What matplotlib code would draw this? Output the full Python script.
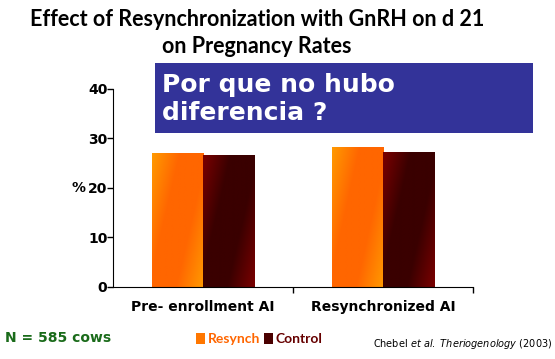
import numpy as np
import matplotlib
matplotlib.use('Agg')
import matplotlib.pyplot as plt
from matplotlib.colors import LinearSegmentedColormap
from matplotlib.patches import Rectangle

categories = ['Pre- enrollment AI', 'Resynchronized AI']
resynch = [27.0, 28.2]
control = [26.7, 27.2]
series_names = ['Resynch', 'Control']

fig = plt.figure(figsize=(5.55, 3.59), dpi=100)
ax = fig.add_axes([0.2036, 0.2006, 0.6486, 0.5515])

x = np.arange(len(categories))
w = 0.285
b1 = ax.bar(x - w / 2, resynch, w, color='#ff7700', edgecolor='#f0d0c0', linewidth=0.6)
b2 = ax.bar(x + w / 2, control, w, color='#550000', edgecolor='#f0d0c0', linewidth=0.6)

# diagonal gradients clipped to each bar
cm_or = LinearSegmentedColormap.from_list('or', ['#ff9900', '#ff6600', '#ff6600', '#ff9900'])
cm_dk = LinearSegmentedColormap.from_list('dk', ['#7a0000', '#3a0000', '#3a0000', '#7a0000'])
gx, gy = np.meshgrid(np.linspace(0, 1, 60), np.linspace(0, 1, 60))
grad = (gx + (1 - gy) * 0.6) / 1.6
for bars, cm in [(b1, cm_or), (b2, cm_dk)]:
    for p in bars:
        x0, y0 = p.get_x(), p.get_y()
        im = ax.imshow(grad, cmap=cm, extent=[x0, x0 + p.get_width(), y0, y0 + p.get_height()],
                       aspect='auto', origin='lower', zorder=p.get_zorder() + 0.1)
        im.set_clip_path(p)

ax.set_xlim(-0.5, 1.5)
ax.set_ylim(0, 40)
ax.set_yticks([0, 10, 20, 30, 40])
ax.set_xticks([0.5, 1.5])
ax.set_xticklabels([])
for i, c in enumerate(categories):
    ax.text(i, -2.6, c, ha='center', va='top', fontsize=10, fontweight='bold', family='DejaVu Sans')
ax.spines['top'].set_visible(False)
ax.spines['right'].set_visible(False)
ax.tick_params(axis='both', length=4, width=1, direction='out', labelsize=10, pad=0)
for t in ax.get_yticklabels():
    t.set_fontweight('bold')
fig.text(72 / 555, 1 - 188 / 359, '%', ha='left', va='center', fontsize=10, fontweight='bold')

fig.text(257 / 555, 1 - 33 / 359, 'Effect of Resynchronization with GnRH on d 21\non Pregnancy Rates',
         ha='center', va='center', fontsize=15.5, fontweight='bold', family='Lato',
         linespacing=1.4)

fig.patches.append(Rectangle((155 / 555, 1 - 133 / 359), 378 / 555, 70 / 359,
                             transform=fig.transFigure, facecolor='#333399', edgecolor='none'))
fig.text(162 / 555, 1 - 99 / 359, 'Por que no hubo\ndiferencia ?', ha='left', va='center',
         fontsize=18, fontweight='bold', color='white', family='DejaVu Sans', linespacing=1.25)

fig.text(5 / 555, 1 - 338 / 359, 'N = 585 cows', ha='left', va='center', fontsize=10,
         fontweight='bold', color='#1a6b1a', family='DejaVu Sans')

fig.patches.append(Rectangle((196 / 555, 1 - 344 / 359), 9 / 555, 11 / 359,
                             transform=fig.transFigure, facecolor='#ff7700', edgecolor='none'))
fig.text(208 / 555, 1 - 339 / 359, series_names[0], ha='left', va='center', fontsize=10,
         fontweight='bold', color='#ff6600', family='Lato')
fig.patches.append(Rectangle((264 / 555, 1 - 344 / 359), 9 / 555, 11 / 359,
                             transform=fig.transFigure, facecolor='#4a0000', edgecolor='none'))
fig.text(276 / 555, 1 - 339 / 359, series_names[1], ha='left', va='center', fontsize=10,
         fontweight='bold', color='#660000', family='Lato')

fig.text(552 / 555, 1 - 344 / 359,
         r'$\mathrm{Chebel}\ \it{et\ al.}\ \it{Theriogenology}\ \mathrm{(2003)}$',
         ha='right', va='center', fontsize=7)

fig.savefig('out.png', dpi=100)
